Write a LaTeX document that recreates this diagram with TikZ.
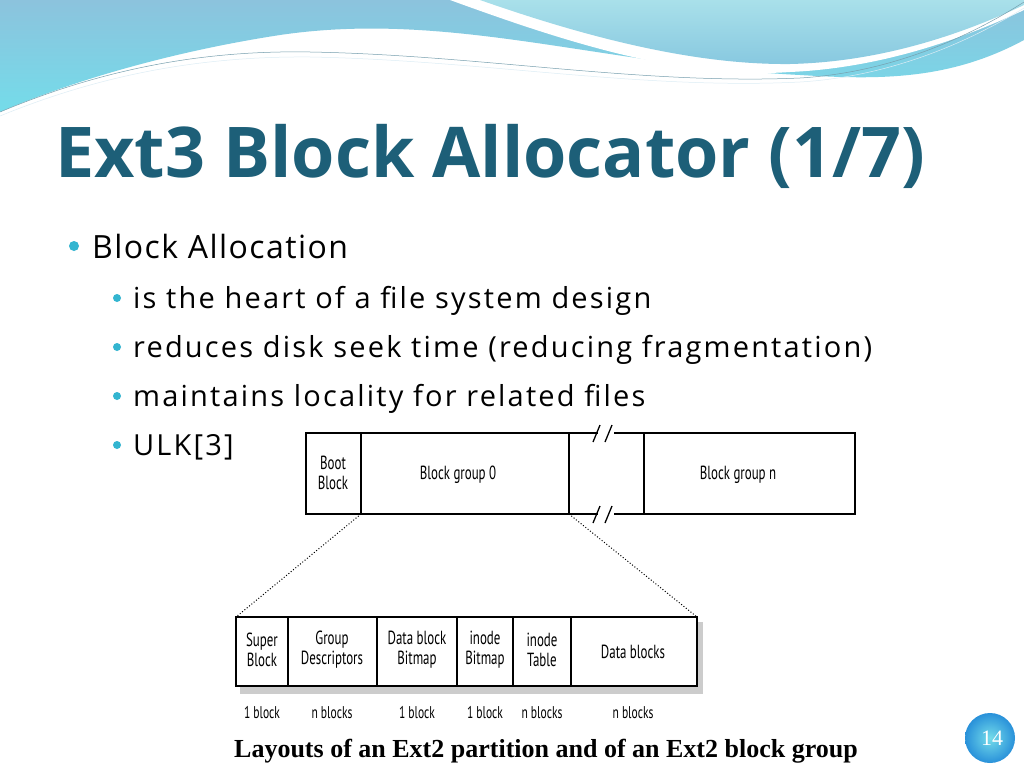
\documentclass[tikz,border=0pt]{standalone}
\usepackage{fontspec}
\setmainfont{Open Sans}
\newfontfamily\capfont{Liberation Serif}
\newfontfamily\diafont{PT Sans}
\definecolor{titlec}{HTML}{1D5F78}
\definecolor{bul}{HTML}{33B5D0}
\definecolor{skyA}{HTML}{8CC3DD}
\definecolor{skyB}{HTML}{74DCEA}
\definecolor{skyC}{HTML}{A9E0EA}
\begin{document}
\begin{tikzpicture}[x=1pt,y=-1pt,
  cell/.style={draw,line width=1.3pt},
  dlab/.style={font=\diafont\fontsize{19}{20}\selectfont,align=center,xscale=0.68,inner sep=0pt},
  slab/.style={font=\diafont\fontsize{17}{18}\selectfont,xscale=0.68,inner sep=0pt},
  bl/.style={font=\addfontfeature{LetterSpace=4.5}\fontsize{32}{36}\selectfont,anchor=base west,inner sep=0pt},
  sbl/.style={font=\addfontfeature{LetterSpace=7.5}\fontsize{29}{32}\selectfont,anchor=base west,inner sep=0pt}]
\useasboundingbox (0,0) rectangle (1024,768);
\fill[white] (0,0) rectangle (1024,768);
% background swooshes
\shade[top color=skyA,bottom color=skyB] (0,0) -- (1024,0) -- (1024,40)
  .. controls (950,80) and (880,80) .. (800,75)
  .. controls (600,65) and (450,10) .. (280,35)
  .. controls (150,55) and (50,90) .. (0,112) -- cycle;
\fill[white] (450,0) .. controls (560,40) and (680,80) .. (790,72)
  .. controls (880,68) and (960,40) .. (1024,10) -- (1024,0) -- cycle;
\shade[top color=skyC,bottom color=skyA!80!skyB] (480,0) .. controls (580,35) and (690,65) .. (790,64)
  .. controls (880,62) and (960,35) .. (1024,5) -- (1024,0) -- cycle;
\draw[titlec!60,line width=0.5pt] (0,112) .. controls (100,70) and (200,50) .. (310,52)
  .. controls (480,55) and (640,85) .. (800,78) .. controls (900,72) and (980,30) .. (1024,2);
\draw[white!70!skyA,line width=0.5pt] (0,116) .. controls (100,75) and (200,56) .. (310,57)
  .. controls (480,60) and (640,90) .. (800,82) .. controls (900,76) and (980,35) .. (1024,8);
% title
\node[font=\bfseries\fontsize{70}{74}\selectfont,text=titlec,anchor=base west,inner sep=0pt] (title) at (55,177) {Ext3 Block Allocator (1/7)};
% bullets
\fill[bul] (74,246) circle (5);
\node[bl] (b1) at (92,258) {Block Allocation};
\foreach \yy/\t [count=\i] in {308/is the heart of a file system design,357/reduces disk seek time (reducing fragmentation),406/maintains locality for related files,455/ULK[3]}{
  \fill[bul] (117,\yy-10) circle (4);
  \node[sbl] (s\i) at (133,\yy) {\t};
}
% diagram
\fill[white] (235,426) rectangle (857,726);
\draw[cell] (306,433) rectangle (855,514);
\draw[cell] (361,433) -- (361,514);
\draw[cell] (569,433) -- (569,514);
\draw[cell] (644,433) -- (644,514);
\fill[white] (598,425) rectangle (614,440);
\fill[white] (598,507) rectangle (614,522);
\draw[line width=1.3pt] (593,442)--(600,425) (605,442)--(612,425);
\draw[line width=1.3pt] (593,523)--(600,506) (605,523)--(612,506);
\node[dlab] (boot) at (333,473) {Boot\\Block};
\node[dlab] (bg0) at (458,475) {Block group 0};
\node[dlab] (bgn) at (738,475) {Block group n};
% shadow
\fill[gray!40] (240,686) rectangle (703,694);
\fill[gray!40] (697,622) rectangle (703,694);
\draw[cell,fill=white] (236,617) rectangle (697,686);
\foreach \xx in {288,377,457,513,571} \draw[cell] (\xx,617) -- (\xx,686);
\draw[dotted,line width=1pt] (361,514) -- (236,617);
\draw[dotted,line width=1pt] (569,514) -- (697,617);
\node[dlab] (sb) at (262,650) {Super\\Block};
\node[dlab] (gd) at (332,650) {Group\\Descriptors};
\node[dlab] (dbb) at (417,650) {Data block\\Bitmap};
\node[dlab] (ib) at (485,650) {inode\\Bitmap};
\node[dlab] (it) at (542,650) {inode\\Table};
\node[dlab] (db) at (633,652) {Data blocks};
\foreach \xx/\t in {262/1 block,332/n blocks,417/1 block,485/1 block,542/n blocks,633/n blocks}
  \node[slab] at (\xx,713) {\t};
% caption
\node[font=\capfont\bfseries\fontsize{26}{28}\selectfont,anchor=base,inner sep=0pt] (cap) at (546,757) {Layouts of an Ext2 partition and of an Ext2 block group};
% page number
\shade[inner color=skyB,outer color=bul!80!blue] (990,738) circle (25);
\node[font=\capfont\fontsize{22}{24}\selectfont,text=white] (pg) at (992,738) {14};
\end{tikzpicture}
\end{document}
